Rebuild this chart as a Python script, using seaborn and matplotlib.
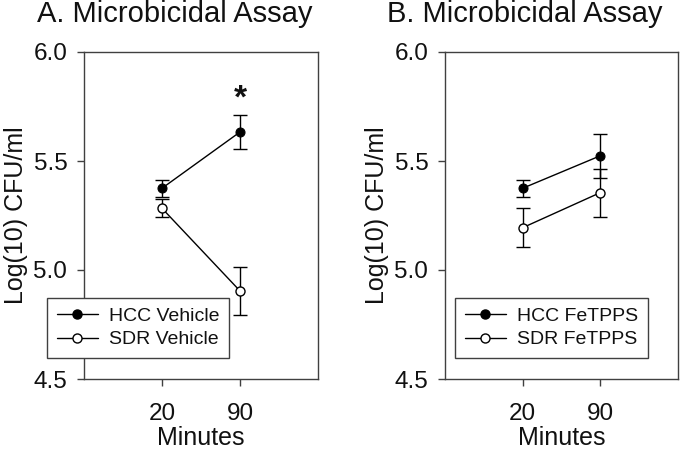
import seaborn as sns
import matplotlib.pyplot as plt
from matplotlib.lines import Line2D

# Datos (medias y error estándar)
minutes = ["20", "90"]
pos = [0, 1]

hcc_vehicle = [5.375, 5.633]
hcc_vehicle_err = [0.04, 0.08]
sdr_vehicle = [5.283, 4.904]
sdr_vehicle_err = [0.042, 0.11]

hcc_fetpps = [5.375, 5.524]
hcc_fetpps_err = [0.04, 0.10]
sdr_fetpps = [5.194, 5.355]
sdr_fetpps_err = [0.09, 0.11]

sns.set_theme(style="white")
plt.rcParams['font.family'] = ['Liberation Sans', 'DejaVu Sans']
dark = "#111111"
plt.rcParams['text.color'] = dark
plt.rcParams['axes.labelcolor'] = dark

fig = plt.figure(figsize=(6.8, 4.49), dpi=100)
axA = fig.add_axes([84 / 680, 70 / 449, 234 / 680, 327 / 449])
axB = fig.add_axes([445 / 680, 70 / 449, 233 / 680, 327 / 449])


def panel(ax, s1, e1, s2, e2, lab1, lab2, leg_x):
    ax.errorbar(pos, s1, yerr=e1, fmt='none', ecolor='black', elinewidth=1, capsize=5, capthick=1, zorder=2)
    ax.errorbar(pos, s2, yerr=e2, fmt='none', ecolor='black', elinewidth=1, capsize=5, capthick=1, zorder=2)
    sns.lineplot(x=pos, y=s1, ax=ax, color='black', linewidth=1, marker='o', markersize=6.5,
                 markerfacecolor='black', markeredgecolor='black', zorder=3)
    sns.lineplot(x=pos, y=s2, ax=ax, color='black', linewidth=1, marker='o', markersize=6.5,
                 markerfacecolor='white', markeredgecolor='black', markeredgewidth=1, zorder=3)
    ax.set_xlim(-1, 2)
    ax.set_ylim(4.5, 6.0)
    ax.set_xticks(pos)
    ax.set_xticklabels(minutes)
    ax.set_yticks([4.5, 5.0, 5.5, 6.0])
    ax.set_yticklabels(["4.5", "5.0", "5.5", "6.0"])
    ax.tick_params(axis='both', labelsize=17.5, length=5, width=1, color='#404040', direction='out',
                   left=True, bottom=True, labelcolor=dark)
    ax.tick_params(axis='y', pad=7)
    ax.tick_params(axis='x', pad=12)
    for sp in ax.spines.values():
        sp.set_visible(True)
        sp.set_color('#404040')
        sp.set_linewidth(1)
    ax.set_xlabel("Minutes", fontsize=18, labelpad=1)
    ax.set_ylabel("Log(10) CFU/ml", fontsize=18, labelpad=4)
    handles = [
        Line2D([], [], color='black', lw=1, marker='o', markersize=6.5, markerfacecolor='black'),
        Line2D([], [], color='black', lw=1, marker='o', markersize=6.5, markerfacecolor='white'),
    ]
    leg = ax.legend(handles, [lab1, lab2], loc='lower left', bbox_to_anchor=(leg_x, 0.064),
                    fontsize=14, frameon=True, fancybox=False, framealpha=1, edgecolor='#404040',
                    handlelength=2.1, handletextpad=0.6, borderpad=0.5, labelspacing=0.3,
                    borderaxespad=0)
    leg.get_frame().set_linewidth(1)


panel(axA, hcc_vehicle, hcc_vehicle_err, sdr_vehicle, sdr_vehicle_err, "HCC Vehicle", "SDR Vehicle", -0.158)
panel(axB, hcc_fetpps, hcc_fetpps_err, sdr_fetpps, sdr_fetpps_err, "HCC FeTPPS", "SDR FeTPPS", 0.043)

axA.text(1, 5.785, "*", ha='center', va='center', fontsize=24, fontweight='bold')

fig.text(175 / 680, 1 - 14 / 449, "A. Microbicidal Assay", ha='center', va='center', fontsize=21)
fig.text(525 / 680, 1 - 14 / 449, "B. Microbicidal Assay", ha='center', va='center', fontsize=21)

fig.savefig("out.png", dpi=100, facecolor='white')
